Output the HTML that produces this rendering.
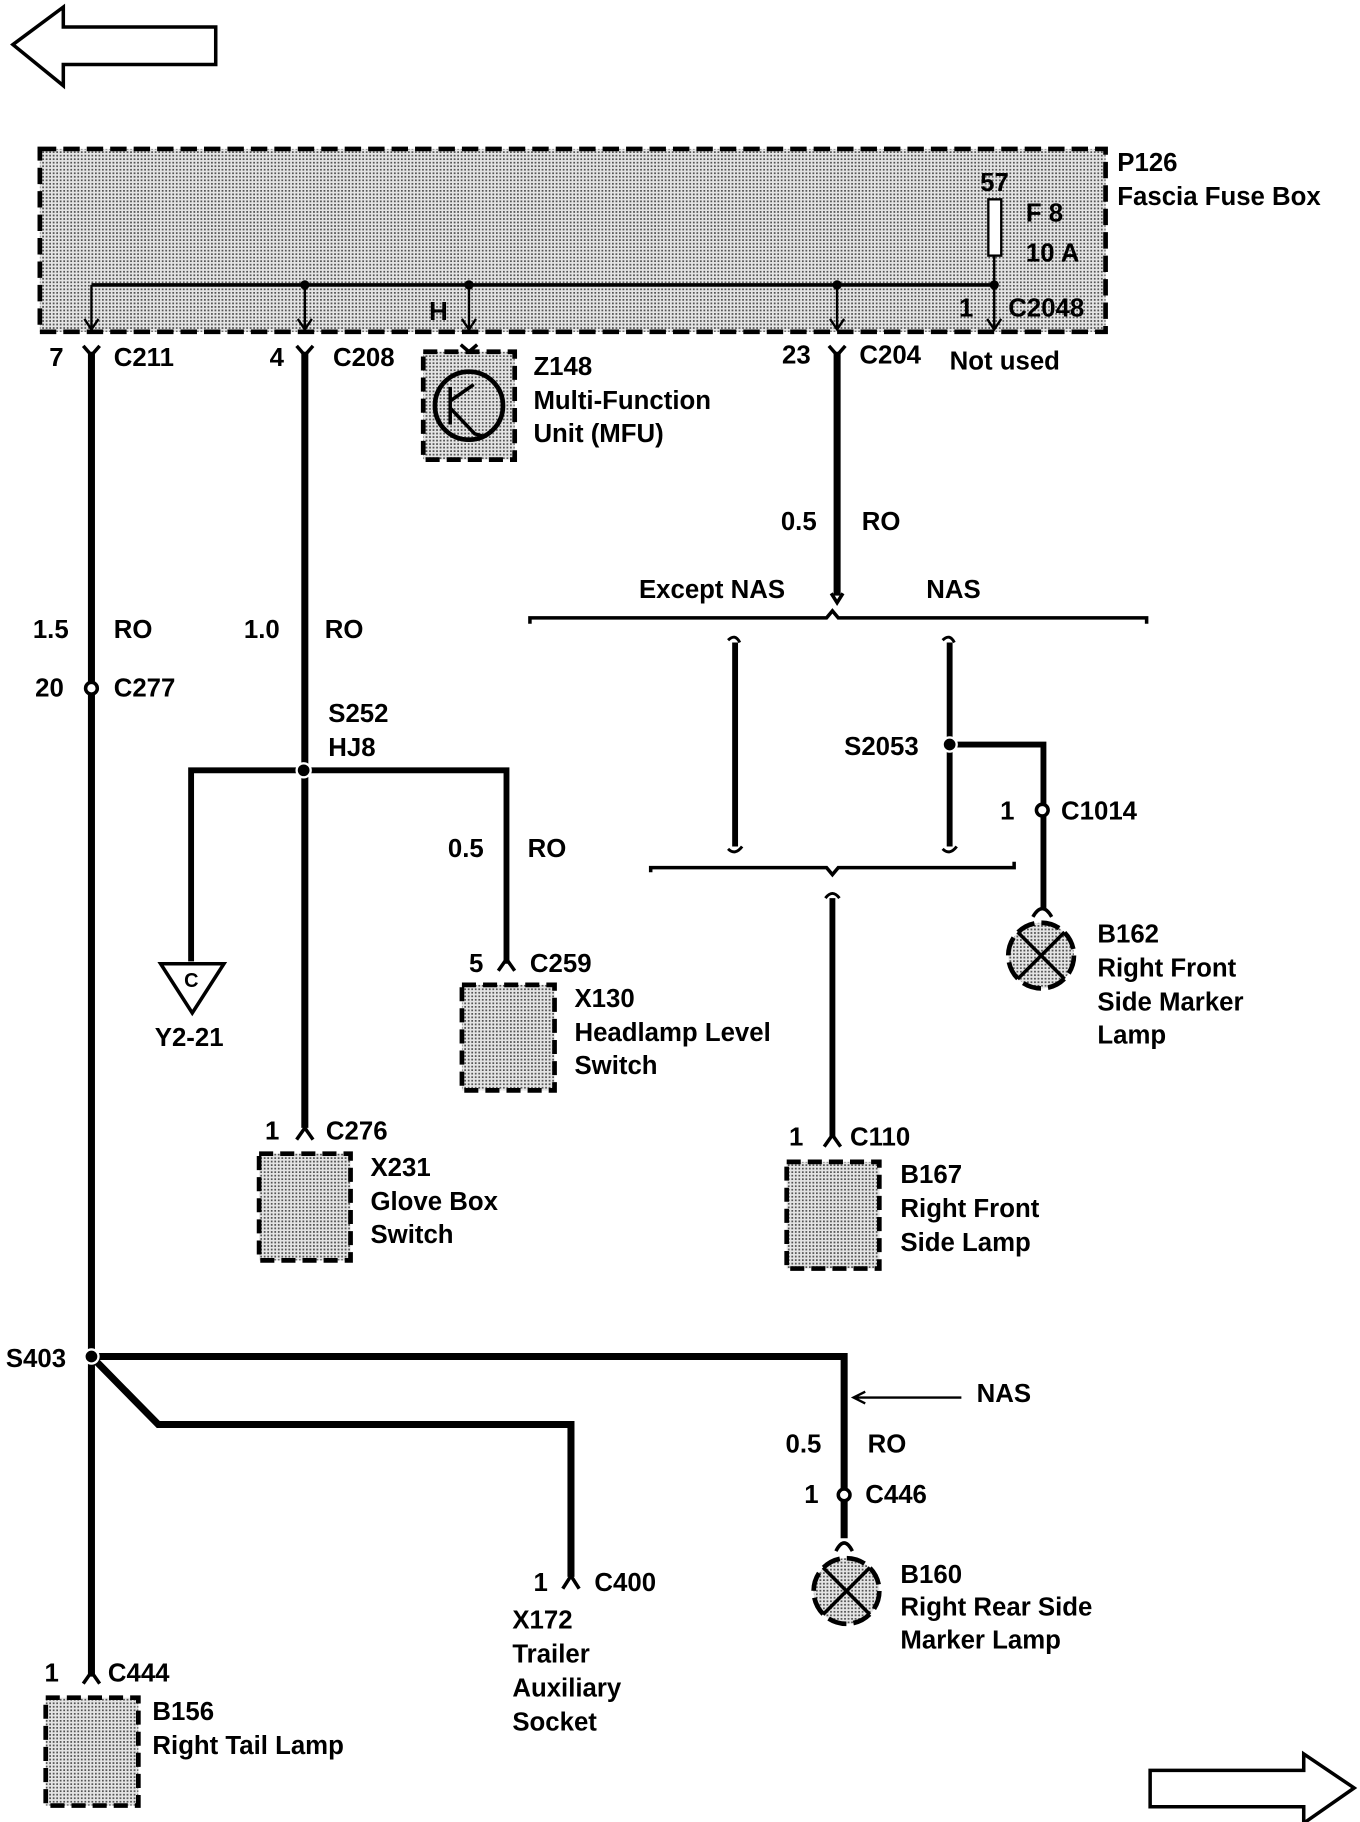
<!DOCTYPE html>
<html><head><meta charset="utf-8"><style>
html,body{margin:0;padding:0;background:#fff;}
svg{display:block;}
text{font-family:"Liberation Sans",sans-serif;font-weight:bold;font-size:22px;fill:#000;}
</style></head><body>
<svg width="1360" height="1822" viewBox="0 0 1160 1554" xmlns="http://www.w3.org/2000/svg">
<defs>
<pattern id="st" width="3" height="3" patternUnits="userSpaceOnUse">
<rect width="3" height="3" fill="#e4e4e4"/><rect width="1.5" height="1.5" fill="#555"/>
</pattern>
</defs>
<!-- arrows -->
<polygon points="11,38 54,6 54,23 184,23 184,55 54,55 54,73" fill="#fff" stroke="#000" stroke-width="3"/>
<polygon points="1155,1525 1112,1496 1112,1510 981,1510 981,1541 1112,1541 1112,1555" fill="#fff" stroke="#000" stroke-width="3"/>

<!-- fuse box -->
<rect x="34" y="127" width="909" height="156" fill="url(#st)" stroke="#000" stroke-width="4" stroke-dasharray="14,6"/>
<text x="953" y="146">P126</text>
<text x="953" y="175">Fascia Fuse Box</text>
<text x="836" y="163">57</text>
<rect x="843" y="170" width="11" height="48" fill="#fff" stroke="#000" stroke-width="2"/>
<text x="875" y="189">F 8</text>
<text x="875" y="223">10 A</text>
<line x1="848" y1="218" x2="848" y2="243" stroke="#000" stroke-width="2"/>
<line x1="78" y1="243" x2="848" y2="243" stroke="#000" stroke-width="3"/>
<g fill="#000"><circle cx="260" cy="243" r="4"/><circle cx="400" cy="243" r="4"/><circle cx="714" cy="243" r="4"/><circle cx="848" cy="243" r="4"/></g>
<g stroke="#000" stroke-width="2" fill="none">
<path d="M78 243V281M72 272L78 281L84 272"/>
<path d="M260 243V281M254 272L260 281L266 272"/>
<path d="M400 243V281M394 272L400 281L406 272"/>
<path d="M714 243V281M708 272L714 281L720 272"/>
<path d="M848 243V281M842 272L848 281L854 272"/>
</g>
<text x="366" y="273">H</text>
<text x="818" y="270">1</text>
<text x="860" y="270">C2048</text>

<!-- connector labels top -->
<text x="42" y="312">7</text><text x="97" y="312">C211</text>
<text x="230" y="312">4</text><text x="284" y="312">C208</text>
<text x="667" y="310">23</text><text x="733" y="310">C204</text>
<text x="810" y="315">Not used</text>
<g stroke="#000" stroke-width="3" fill="none">
<path d="M71 295L78 303L85 295"/><path d="M253 295L260 303L267 295"/><path d="M707 295L714 303L721 295"/>
<path d="M393 294L400 300L407 294"/>
</g>

<!-- main wires -->
<g stroke="#000" stroke-width="6" fill="none">
<line x1="78" y1="300" x2="78" y2="1430"/>
<line x1="260" y1="300" x2="260" y2="962"/>
<line x1="714" y1="300" x2="714" y2="508"/>
</g>

<!-- Z148 -->
<rect x="361" y="300" width="78" height="92" fill="url(#st)" stroke="#000" stroke-width="4" stroke-dasharray="12,6"/>
<circle cx="400" cy="346" r="29" fill="url(#st)" stroke="#000" stroke-width="4"/>
<path d="M384 330V362M384 348L405 370L412 372M384 342L404 328" stroke="#000" stroke-width="3" fill="none"/>
<text x="455" y="320">Z148</text>
<text x="455" y="349">Multi-Function</text>
<text x="455" y="377">Unit (MFU)</text>

<text x="666" y="452">0.5</text><text x="735" y="452">RO</text>
<text x="545" y="510">Except NAS</text><text x="790" y="510">NAS</text>
<path d="M709 506L714 514L719 506" stroke="#000" stroke-width="3" fill="none"/>
<!-- brackets -->
<path d="M452 532V527H705L710 521L715 527H978V532" stroke="#000" stroke-width="3" fill="none"/>
<path d="M555 744V740H705L710 746L715 740H865V735" stroke="#000" stroke-width="3" fill="none"/>
<g stroke="#000" stroke-width="5" fill="none">
<line x1="627" y1="548" x2="627" y2="722"/>
<line x1="810" y1="548" x2="810" y2="722"/>
<line x1="710" y1="766" x2="710" y2="970"/>
<path d="M810 635H890V775"/>
</g>
<g stroke="#000" stroke-width="2.5" fill="none">
<path d="M621 546Q627 540 631 548M621 724Q627 730 633 722"/>
<path d="M804 546Q810 540 814 548M804 724Q810 730 816 722"/>
<path d="M704 766Q710 758 716 766"/>
</g>
<circle cx="810" cy="635" r="6" fill="#000" stroke="#fff" stroke-width="2"/>
<text x="720" y="644">S2053</text>
<circle cx="889" cy="691" r="5" fill="#fff" stroke="#000" stroke-width="3"/>
<text x="853" y="699">1</text><text x="905" y="699">C1014</text>
<path d="M881 782Q889 768 897 782" stroke="#000" stroke-width="3" fill="none"/>
<circle cx="888" cy="815" r="28" fill="url(#st)" stroke="#000" stroke-width="4" stroke-dasharray="16,6"/>
<path d="M868 795L908 835M908 795L868 835" stroke="#000" stroke-width="3"/>
<text x="936" y="804">B162</text><text x="936" y="833">Right Front</text><text x="936" y="862">Side Marker</text><text x="936" y="890">Lamp</text>

<text x="673" y="977">1</text><text x="725" y="977">C110</text>
<path d="M703 978L710 968L717 978" stroke="#000" stroke-width="3" fill="none"/>
<rect x="671" y="991" width="79" height="91" fill="url(#st)" stroke="#000" stroke-width="4" stroke-dasharray="12,6"/>
<text x="768" y="1009">B167</text><text x="768" y="1038">Right Front</text><text x="768" y="1067">Side Lamp</text>

<!-- left labels -->
<text x="28" y="544">1.5</text><text x="97" y="544">RO</text>
<text x="208" y="544">1.0</text><text x="277" y="544">RO</text>
<circle cx="78" cy="587" r="5" fill="#fff" stroke="#000" stroke-width="3"/>
<text x="30" y="594">20</text><text x="97" y="594">C277</text>

<!-- S252 -->
<text x="280" y="616">S252</text><text x="280" y="645">HJ8</text>
<path d="M163 820V657H432V822" stroke="#000" stroke-width="5" fill="none"/>
<circle cx="259" cy="657" r="6" fill="#000" stroke="#fff" stroke-width="2"/>
<polygon points="137,822 191,822 164,864" fill="#fff" stroke="#000" stroke-width="3"/>
<text x="157" y="842" style="font-size:17px">C</text>
<text x="132" y="892">Y2-21</text>
<text x="382" y="731">0.5</text><text x="450" y="731">RO</text>
<text x="400" y="829">5</text><text x="452" y="829">C259</text>
<path d="M425 828L432 818L439 828" stroke="#000" stroke-width="3" fill="none"/>
<rect x="394" y="840" width="79" height="90" fill="url(#st)" stroke="#000" stroke-width="4" stroke-dasharray="12,6"/>
<text x="490" y="859">X130</text><text x="490" y="888">Headlamp Level</text><text x="490" y="916">Switch</text>

<text x="226" y="972">1</text><text x="278" y="972">C276</text>
<path d="M253 972L260 962L267 972" stroke="#000" stroke-width="3" fill="none"/>
<rect x="221" y="984" width="78" height="91" fill="url(#st)" stroke="#000" stroke-width="4" stroke-dasharray="12,6"/>
<text x="316" y="1003">X231</text><text x="316" y="1032">Glove Box</text><text x="316" y="1060">Switch</text>

<!-- S403 -->
<g stroke="#000" stroke-width="6" fill="none">
<path d="M78 1157H720V1312"/>
<path d="M78 1157L135 1215H487V1345"/>
</g>
<circle cx="78" cy="1157" r="6" fill="#000" stroke="#fff" stroke-width="2"/>
<text x="5" y="1166">S403</text>
<path d="M820 1192H730M738 1187L728 1192L738 1197" stroke="#000" stroke-width="2" fill="none"/>
<text x="833" y="1196">NAS</text>
<text x="670" y="1239">0.5</text><text x="740" y="1239">RO</text>
<circle cx="720" cy="1275" r="5" fill="#fff" stroke="#000" stroke-width="3"/>
<text x="686" y="1282">1</text><text x="738" y="1282">C446</text>
<path d="M713 1323Q720 1309 727 1323" stroke="#000" stroke-width="3" fill="none"/>
<circle cx="722" cy="1357" r="28" fill="url(#st)" stroke="#000" stroke-width="4" stroke-dasharray="16,6"/>
<path d="M702 1337L742 1377M742 1337L702 1377" stroke="#000" stroke-width="3"/>
<text x="768" y="1350">B160</text><text x="768" y="1378">Right Rear Side</text><text x="768" y="1406">Marker Lamp</text>

<text x="455" y="1357">1</text><text x="507" y="1357">C400</text>
<path d="M480 1355L487 1344L494 1355" stroke="#000" stroke-width="3" fill="none"/>
<text x="437" y="1389">X172</text><text x="437" y="1418">Trailer</text><text x="437" y="1447">Auxiliary</text><text x="437" y="1476">Socket</text>

<text x="38" y="1434">1</text><text x="92" y="1434">C444</text>
<path d="M71 1436L78 1426L85 1436" stroke="#000" stroke-width="3" fill="none"/>
<rect x="39" y="1448" width="79" height="92" fill="url(#st)" stroke="#000" stroke-width="4" stroke-dasharray="12,6"/>
<text x="130" y="1467">B156</text><text x="130" y="1496">Right Tail Lamp</text>
</svg>
</body></html>
